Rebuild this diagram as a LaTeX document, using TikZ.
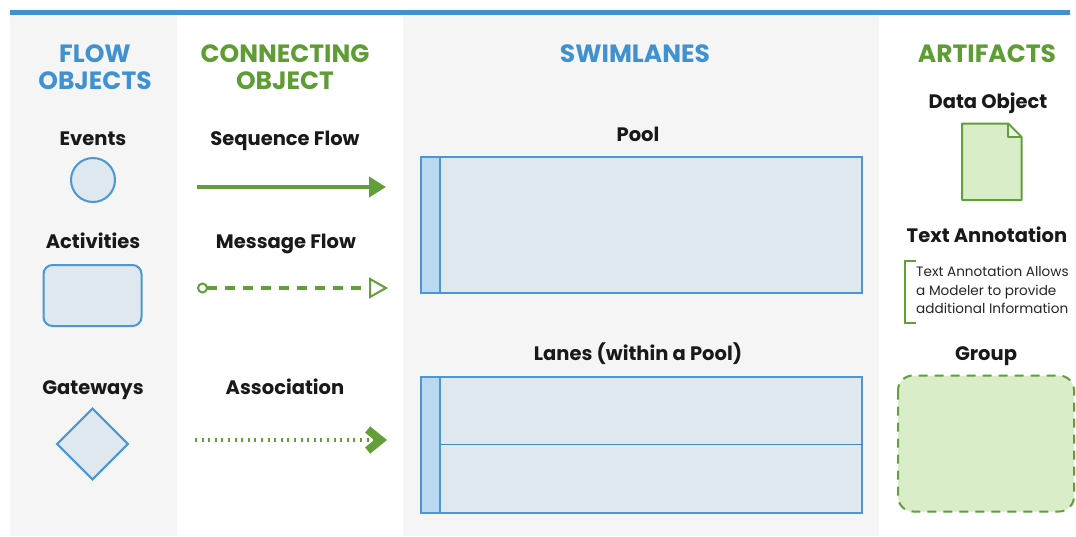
\documentclass[tikz,border=0pt]{standalone}
\usepackage{fontspec}
\setmainfont{Poppins}
\usetikzlibrary{arrows.meta}
\definecolor{hblue}{RGB}{64,145,210}
\definecolor{hgreen}{RGB}{94,156,52}
\definecolor{lgray}{RGB}{245,245,245}
\definecolor{sfill}{RGB}{222,232,238}
\definecolor{bandfill}{RGB}{186,217,240}
\definecolor{gfill}{RGB}{217,238,200}
\definecolor{sblue}{RGB}{76,150,212}
\definecolor{sgreen}{RGB}{98,158,58}
\tikzset{
  head/.style={font=\bfseries\fontsize{25}{27}\selectfont, align=center, inner sep=0pt},
  lbl/.style={font=\bfseries\fontsize{19.5}{22}\selectfont, anchor=base, inner sep=0pt, text=black!90},
  flowobj/.style={draw=sblue, fill=sfill, line width=2pt},
  poolbox/.style={draw=sblue, fill=sfill, line width=2pt, minimum width=441pt, minimum height=136pt, inner sep=0pt, anchor=north west},
  bandbox/.style={draw=sblue, fill=bandfill, line width=2pt, minimum width=19pt, minimum height=136pt, inner sep=0pt, anchor=north west},
  conn/.style={draw=sgreen, line width=4pt},
}
\begin{document}
\begin{tikzpicture}[x=1pt,y=-1pt]
\useasboundingbox (0,0) rectangle (1076,536);
\fill[white] (0,0) rectangle (1076,536);
\fill[lgray] (10,15) rectangle (177,536);
\fill[lgray] (403,15) rectangle (879,536);
\fill[hblue] (10,9.5) rectangle (1070,15);

% headings
\node[head, text=hblue] (hflow) at (95,67) {FLOW\\OBJECTS};
\node[head, text=hgreen] (hconn) at (285,67) {CONNECTING\\OBJECT};
\node[head, text=hblue] (hswim) at (635,53.5) {SWIMLANES};
\node[head, text=hgreen] (hart) at (987,53.5) {ARTIFACTS};

% flow objects
\node[lbl] (lev) at (93,145) {Events};
\node[flowobj, circle, minimum size=44pt, inner sep=0pt] (event) at (93,180) {};
\node[lbl] (lact) at (93,248) {Activities};
\node[flowobj, rounded corners=9pt, minimum width=98pt, minimum height=61pt, inner sep=0pt] (activity) at (92.5,295.5) {};
\node[lbl] (lgw) at (93,394) {Gateways};
\node[flowobj, minimum width=50pt, minimum height=50pt, inner sep=0pt, rotate=45] (gateway) at (92.5,444) {};

% connecting objects
\node[lbl] (lseq) at (285,145) {Sequence Flow};
\coordinate (sfa) at (197,187);
\coordinate (sfb) at (386,187);
\draw[conn, -{Triangle[length=17pt,width=20pt]}] (sfa) -- (sfb);

\node[lbl] (lmsg) at (286,248) {Message Flow};
\coordinate (mfa) at (197,288);
\coordinate (mfb) at (388,288);
\draw[conn, dash pattern=on 10pt off 8pt,
  {Circle[open,length=11pt,width=11pt,line width=2pt]}-{Triangle[open,length=19pt,width=21pt,line width=2pt]}]
  (mfa) -- (mfb);

\node[lbl] (lasc) at (285,394) {Association};
\coordinate (asa) at (195,440);
\coordinate (asb) at (387,440);
\draw[conn, dash pattern=on 2pt off 4.6pt,
  -{Straight Barb[length=13pt,width=21pt,line width=8pt,line join=miter]}]
  (asa) -- (asb);

% swimlanes
\node[lbl] (lpool) at (638,141) {Pool};
\node[poolbox] (pool) at (419.5,155.5) {};
\node[bandbox] (band) at (419.5,155.5) {};
\node[lbl] (llane) at (638,360) {Lanes (within a Pool)};
\node[poolbox] (pool2) at (419.5,375.5) {};
\node[bandbox] (band2) at (419.5,375.5) {};
\draw[sblue!90!black, line width=1.8pt] (band2.east) -- (pool2.east);

% artifacts
\node[lbl] (ldata) at (988,108) {Data Object};
\filldraw[draw=sgreen, fill=gfill, line width=2pt, line join=round]
  (962,123.5) -- (1008,123.5) -- (1021.5,137) -- (1021.5,200) -- (962,200) -- cycle;
\filldraw[draw=sgreen, fill=white!60!gfill, line width=1.6pt, line join=round]
  (1008,123.5) -- (1008,137) -- (1021.5,137) -- cycle;

\node[lbl] (lann) at (987,242) {Text Annotation};
\draw[sgreen, line width=2pt] (916,261) -- (905,261) -- (905,323) -- (916,323);
\node[font=\fontsize{13.6}{18.5}\selectfont, align=left, anchor=north west, inner sep=0pt, text=black!85] (anntext) at (916,266)
  {Text Annotation Allows\\a Modeler to provide\\additional Information};

\node[lbl] (lgrp) at (986,360) {Group};
\filldraw[draw=sgreen, fill=gfill, line width=2pt, dash pattern=on 9pt off 7pt, rounded corners=15pt]
  (898,375.5) rectangle (1074,511.5);
\end{tikzpicture}
\end{document}
